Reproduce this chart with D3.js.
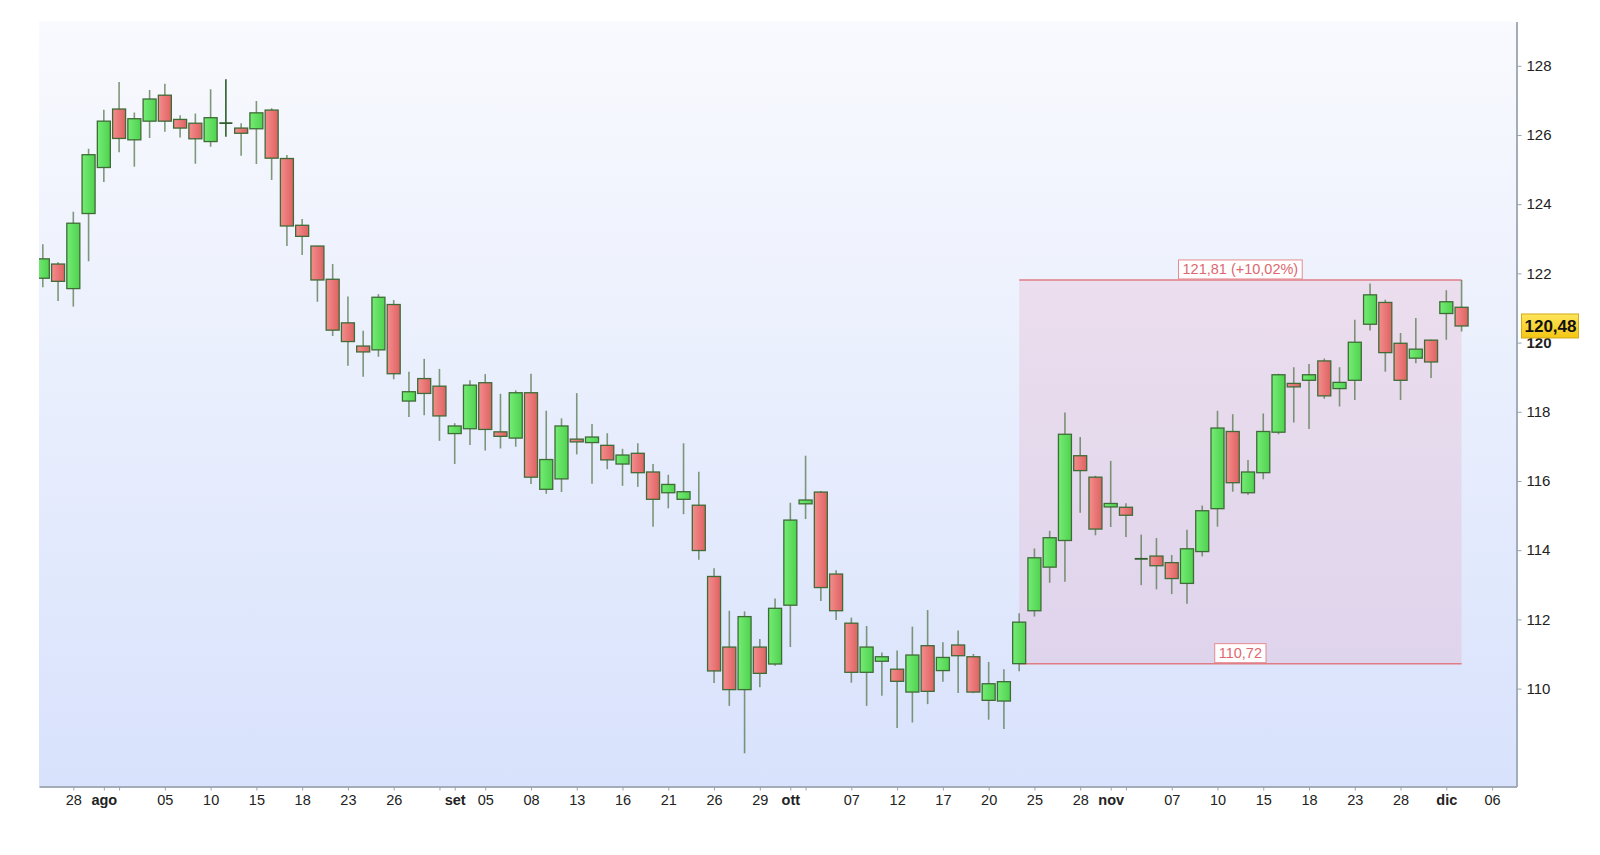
<!DOCTYPE html>
<html>
<head>
<meta charset="utf-8">
<script src="https://cdn.jsdelivr.net/npm/d3@7"></script>
<style>
  body { margin: 0; background: #fff; }
  svg { display: block; font-family: "Liberation Sans", Arial, sans-serif; }
</style>
</head>
<body>
<svg id="chart" width="1600" height="855"></svg>
<script>
// valori OHLC (una candela per indice)
var opens = [121.86,122.27,121.56,123.73,125.06,126.75,125.86,126.40,127.15,126.45,
  126.34,125.81,126.34,126.20,126.18,126.72,125.32,123.39,122.79,121.83,
  120.57,119.90,119.79,121.10,118.31,118.96,118.74,117.37,117.51,118.84,
  117.42,117.24,118.55,115.76,116.06,117.21,117.11,117.03,116.49,116.80,
  116.26,115.66,115.47,115.30,113.24,111.20,109.97,111.20,110.71,112.41,
  115.34,115.68,113.31,111.89,110.47,110.79,110.56,109.90,111.24,110.52,
  111.26,110.92,109.66,109.64,110.72,112.25,113.51,114.28,116.73,116.11,
  115.25,115.24,113.75,113.83,113.64,113.04,113.96,115.20,117.43,115.66,
  116.24,117.41,118.82,118.91,119.47,118.67,118.91,120.53,121.16,119.98,
  119.55,120.07,120.84,121.02];
var highs = [122.84,122.32,123.78,125.60,126.73,127.53,126.65,127.30,127.48,126.57,
  126.62,127.32,127.61,126.34,126.98,126.77,125.42,123.57,122.80,122.27,
  121.33,120.34,121.40,121.23,119.16,119.53,119.24,117.67,118.91,119.09,
  118.52,118.62,119.10,118.03,117.81,118.54,117.65,117.38,116.93,117.09,
  116.49,116.18,117.09,116.27,113.48,112.25,112.23,111.43,112.60,115.37,
  116.73,115.71,113.42,112.05,111.81,111.04,111.10,111.79,112.27,111.34,
  111.68,111.00,110.77,110.56,112.18,114.05,114.56,117.98,117.27,116.15,
  116.58,115.36,114.45,114.35,113.86,114.59,115.29,118.03,117.93,116.61,
  117.95,119.10,119.29,119.38,119.54,119.29,120.66,121.71,121.24,120.28,
  120.71,120.08,121.51,121.81];
var lows = [121.60,121.20,121.04,122.35,124.64,125.50,125.08,125.91,126.09,125.93,
  125.17,125.66,125.95,125.40,125.16,124.70,122.79,122.53,121.18,120.19,
  119.33,119.01,119.59,118.94,117.85,117.90,117.16,116.49,117.04,116.88,
  116.94,116.99,115.91,115.63,115.68,116.77,115.92,116.34,115.86,115.83,
  114.68,115.21,115.04,113.72,110.16,109.50,108.13,110.04,110.66,111.20,
  114.90,112.53,111.98,110.17,109.50,109.79,108.86,109.02,109.55,110.20,
  109.87,109.87,109.10,108.83,110.50,112.08,113.06,113.09,115.08,114.43,
  114.67,114.38,112.99,112.87,112.73,112.45,113.82,114.68,115.69,115.60,
  116.05,117.35,117.69,117.50,118.38,118.15,118.34,120.35,119.16,118.34,
  119.40,118.98,120.08,120.32];
var closes = [122.42,121.77,123.45,125.43,126.40,125.90,126.47,127.04,126.40,126.20,
  125.89,126.50,126.34,126.05,126.64,125.33,123.37,123.07,121.81,120.36,
  120.03,119.73,121.31,119.10,118.58,118.53,117.88,117.59,118.77,117.49,
  117.29,118.55,116.11,116.62,117.59,117.13,117.27,116.61,116.75,116.24,
  115.47,115.90,115.69,113.99,110.51,109.97,112.08,110.44,112.32,114.87,
  115.45,112.92,112.25,110.47,111.20,110.92,110.21,110.97,109.92,110.90,
  110.95,109.90,110.14,110.20,111.92,113.78,114.36,117.35,116.30,114.61,
  115.35,115.01,113.75,113.55,113.18,114.04,115.14,117.53,115.95,116.26,
  117.43,119.07,118.72,119.07,118.46,118.85,120.01,121.38,119.71,118.91,
  119.81,119.44,121.18,120.48];

// etichette asse date
var tickIdx   = [2, 4, 5, 8, 11, 14, 17, 20, 23, 26, 27, 29, 32, 35, 38, 41, 44, 47,
  49, 50, 53, 56, 59, 62, 65, 68, 70, 71, 74, 77, 80, 83, 86, 89, 92, 95];
var tickText  = ['28', 'ago', '', '05', '10', '15', '18', '23', '26', '', 'set', '05', '08', '13', '16', '21', '26', '29',
  'ott', '', '07', '12', '17', '20', '25', '28', 'nov', '', '07', '10', '15', '18', '23', '28', 'dic', '06'];
var monthText = ['ago', 'set', 'ott', 'nov', 'dic'];

var priceTicks = [110, 112, 114, 116, 118, 120, 122, 124, 126, 128];

// intervallo evidenziato
var rangeFrom = 64, rangeTo = 93;

var W = 1600, H = 855;
var plot = { left: 39, right: 1516.5, top: 21.5, bottom: 786.5 };

var it = d3.formatLocale({ decimal: ',', thousands: '.', grouping: [3], currency: ['€', ''] });
var fmt2 = it.format('.2f');

var svg = d3.select('#chart');

var x = d3.scaleLinear().domain([-0.25, 96.6]).range([plot.left, plot.right]);
var y = d3.scaleLinear().domain([107.17, 129.28]).range([plot.bottom, plot.top]);

var defs = svg.append('defs');
var bg = defs.append('linearGradient').attr('id', 'bg').attr('x1', 0).attr('y1', 0).attr('x2', 0).attr('y2', 1);
bg.append('stop').attr('offset', '0%').attr('stop-color', '#f9fafe');
bg.append('stop').attr('offset', '100%').attr('stop-color', '#d8e2fc');

function bodyGrad(id, c1, c2) {
    var g = defs.append('linearGradient').attr('id', id).attr('x1', 0).attr('y1', 0).attr('x2', 1).attr('y2', 0);
    g.append('stop').attr('offset', '0%').attr('stop-color', c1);
    g.append('stop').attr('offset', '100%').attr('stop-color', c2);
}
bodyGrad('up', '#74ec74', '#4fd24f');
bodyGrad('down', '#f48d8d', '#df6262');

var yel = defs.append('linearGradient').attr('id', 'yel').attr('x1', 0).attr('y1', 0).attr('x2', 0).attr('y2', 1);
yel.append('stop').attr('offset', '0%').attr('stop-color', '#ffe55c');
yel.append('stop').attr('offset', '100%').attr('stop-color', '#f3c613');

defs.append('clipPath').attr('id', 'clip')
    .append('rect')
    .attr('x', plot.left).attr('y', plot.top)
    .attr('width', plot.right - plot.left).attr('height', plot.bottom - plot.top);

svg.append('rect')
    .attr('x', plot.left).attr('y', plot.top)
    .attr('width', plot.right - plot.left).attr('height', plot.bottom - plot.top)
    .attr('fill', 'url(#bg)');

var g = svg.append('g').attr('clip-path', 'url(#clip)');

// rettangolo min/max
var rangeHigh = d3.max(highs.slice(rangeFrom, rangeTo + 1));
var rangeLow = opens[rangeFrom];
var pct = (rangeHigh / rangeLow - 1) * 100;

g.append('rect')
    .attr('x', x(rangeFrom)).attr('y', y(rangeHigh))
    .attr('width', x(rangeTo) - x(rangeFrom))
    .attr('height', y(rangeLow) - y(rangeHigh))
    .attr('fill', 'rgba(226,150,182,0.22)');
[rangeHigh, rangeLow].forEach(function (v) {
    g.append('line')
        .attr('x1', x(rangeFrom)).attr('x2', x(rangeTo))
        .attr('y1', y(v)).attr('y2', y(v))
        .attr('stroke', '#e07c84').attr('stroke-width', 1.5);
});

var candles = d3.range(opens.length).map(function (i) {
    return { i: i, o: opens[i], h: highs[i], l: lows[i], c: closes[i] };
});

var bw = 13;

g.selectAll('line.wick')
    .data(candles)
    .enter().append('line')
    .attr('class', 'wick')
    .attr('x1', function (d) { return x(d.i); })
    .attr('x2', function (d) { return x(d.i); })
    .attr('y1', function (d) { return y(d.h); })
    .attr('y2', function (d) { return y(d.l); })
    .attr('stroke', function (d) { return d.o === d.c && d.i < 50 ? '#2f5e2a' : 'rgba(88,120,78,0.75)'; })
    .attr('stroke-width', 1.6);

g.selectAll('rect.body')
    .data(candles.filter(function (d) { return d.o !== d.c; }))
    .enter().append('rect')
    .attr('class', 'body')
    .attr('x', function (d) { return x(d.i) - bw / 2; })
    .attr('y', function (d) { return y(Math.max(d.o, d.c)); })
    .attr('width', bw)
    .attr('height', function (d) { return Math.max(2, Math.abs(y(d.o) - y(d.c))); })
    .attr('fill', function (d) { return d.c > d.o ? 'url(#up)' : 'url(#down)'; })
    .attr('stroke', '#3f6b37')
    .attr('stroke-width', 1.3);

g.selectAll('line.doji')
    .data(candles.filter(function (d) { return d.o === d.c; }))
    .enter().append('line')
    .attr('class', 'doji')
    .attr('x1', function (d) { return x(d.i) - bw / 2; })
    .attr('x2', function (d) { return x(d.i) + bw / 2; })
    .attr('y1', function (d) { return y(d.o); })
    .attr('y2', function (d) { return y(d.o); })
    .attr('stroke', '#2f5e2a').attr('stroke-width', 1.8);

// etichette del rettangolo
function boxLabel(txt, v) {
    var lg = svg.append('g');
    var t = lg.append('text')
        .attr('x', (x(rangeFrom) + x(rangeTo)) / 2)
        .attr('y', y(v) - 6)
        .attr('text-anchor', 'middle')
        .attr('font-size', 14.5)
        .attr('fill', '#e0676f')
        .text(txt);
    var tw = t.node().getComputedTextLength();
    lg.insert('rect', 'text')
        .attr('x', (x(rangeFrom) + x(rangeTo)) / 2 - tw / 2 - 4)
        .attr('y', y(v) - 20)
        .attr('width', tw + 8)
        .attr('height', 19)
        .attr('fill', '#fff')
        .attr('stroke', '#e58a90').attr('stroke-width', 1);
}
boxLabel(fmt2(rangeHigh) + ' (+' + fmt2(pct) + '%)', rangeHigh);
boxLabel(fmt2(rangeLow), rangeLow);

// asse prezzi a destra
var yAxis = svg.append('g')
    .attr('transform', 'translate(' + plot.right + ',0)')
    .call(d3.axisRight(y).tickValues(priceTicks).tickSize(5).tickSizeOuter(0).tickPadding(5).tickFormat(d3.format('d')));
yAxis.select('.domain').attr('stroke', '#a3adba').attr('stroke-width', 2);
yAxis.selectAll('.tick line').attr('stroke', '#9aa4b2');
yAxis.selectAll('.tick text')
    .attr('font-size', 15).attr('fill', '#222')
    .attr('font-family', '"Liberation Sans", Arial, sans-serif')
    .attr('font-weight', function (d) { return d === 120 ? 'bold' : 'normal'; });

// asse date
var xAxis = svg.append('g')
    .attr('transform', 'translate(0,' + plot.bottom + ')')
    .call(d3.axisBottom(x).tickValues(tickIdx).tickSize(4).tickSizeOuter(0).tickPadding(4)
        .tickFormat(function (d, i) { return tickText[i]; }));
xAxis.select('.domain').attr('stroke', '#a3adba').attr('stroke-width', 2);
xAxis.selectAll('.tick line').attr('stroke', '#9aa4b2');
xAxis.selectAll('.tick text')
    .attr('font-size', 14.5).attr('fill', '#222')
    .attr('font-family', '"Liberation Sans", Arial, sans-serif')
    .attr('font-weight', function (d, i) { return monthText.indexOf(tickText[i]) >= 0 ? 'bold' : 'normal'; });

// ultimo prezzo
var last = closes[closes.length - 1];
var pl = svg.append('g');
pl.append('rect')
    .attr('x', plot.right + 5).attr('y', y(last) - 12)
    .attr('width', 57).attr('height', 24)
    .attr('fill', 'url(#yel)')
    .attr('stroke', '#d2aa1a').attr('stroke-width', 1);
pl.append('text')
    .attr('x', plot.right + 8).attr('y', y(last) + 6)
    .attr('font-size', 17).attr('font-weight', 'bold').attr('fill', '#111')
    .text(fmt2(last));
</script>
</body>
</html>
